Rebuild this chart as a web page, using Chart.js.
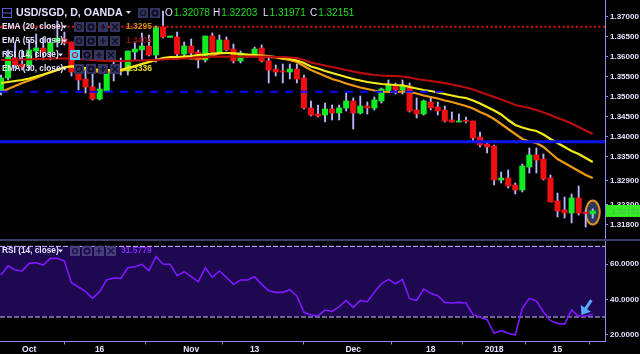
<!DOCTYPE html>
<html><head><meta charset="utf-8">
<style>html,body{margin:0;padding:0;background:#fff}canvas{display:block;background:#000}</style>
<script src="https://cdn.jsdelivr.net/npm/chart.js@4/dist/chart.umd.min.js"></script>
</head><body><canvas id="c" width="640" height="354"></canvas>
<script>
const open=[1.35125,1.35475,1.35975,1.35825,1.35800,1.36150,1.36225,1.36125,1.36375,1.36450,1.36375,1.35625,1.35450,1.35250,1.34950,1.35150,1.35600,1.35700,1.35650,1.36125,1.36175,1.36275,1.36050,1.36750,1.36490,1.36500,1.36075,1.36275,1.36125,1.35925,1.36525,1.36125,1.36425,1.36200,1.35900,1.36000,1.36075,1.36225,1.35900,1.35700,1.35650,1.35625,1.35700,1.35475,1.34725,1.34575,1.34550,1.34700,1.34600,1.34725,1.34900,1.34600,1.34775,1.34725,1.34900,1.35150,1.35300,1.35175,1.35275,1.34675,1.34575,1.34875,1.34750,1.34675,1.34425,1.34375,1.34415,1.34400,1.34000,1.33825,1.33775,1.32925,1.32975,1.32800,1.32675,1.33250,1.33550,1.33450,1.32975,1.32400,1.32175,1.32100,1.32475,1.32125,1.32078];
const high=[1.35550,1.36175,1.36350,1.36175,1.36425,1.36575,1.36500,1.36475,1.36900,1.36625,1.36375,1.35800,1.35725,1.35675,1.35350,1.35800,1.35950,1.35975,1.36150,1.36375,1.36600,1.36550,1.36775,1.37150,1.36525,1.36625,1.36375,1.36450,1.36175,1.36525,1.36600,1.36550,1.36500,1.36325,1.36150,1.36025,1.36250,1.36300,1.36025,1.35800,1.35825,1.35825,1.35825,1.35550,1.34900,1.34800,1.34850,1.34800,1.34800,1.35100,1.34975,1.35025,1.34875,1.35000,1.35225,1.35425,1.35350,1.35425,1.35350,1.34975,1.34925,1.35000,1.34875,1.34775,1.34625,1.34575,1.34500,1.34400,1.34125,1.33875,1.33800,1.33125,1.33175,1.32850,1.33325,1.33725,1.33725,1.33575,1.33050,1.32600,1.32500,1.32575,1.32775,1.32175,1.32203];
const low=[1.35050,1.35425,1.35725,1.35675,1.35675,1.35925,1.35925,1.35925,1.36250,1.36300,1.35525,1.35175,1.35100,1.34925,1.34925,1.35150,1.35400,1.35550,1.35550,1.35925,1.35925,1.36025,1.35875,1.36475,1.36490,1.36000,1.35975,1.35950,1.35725,1.35875,1.36125,1.36125,1.36150,1.35850,1.35850,1.36000,1.36025,1.35875,1.35350,1.35525,1.35350,1.35450,1.35350,1.34700,1.34525,1.34500,1.34375,1.34425,1.34425,1.34650,1.34200,1.34575,1.34575,1.34675,1.34850,1.35125,1.35075,1.35075,1.34625,1.34475,1.34550,1.34675,1.34550,1.34375,1.34375,1.34375,1.34350,1.33900,1.33750,1.33600,1.32800,1.32850,1.32725,1.32575,1.32625,1.33100,1.33100,1.32925,1.32375,1.32000,1.31975,1.31850,1.32050,1.31750,1.31971];
const close=[1.35475,1.36000,1.35800,1.35750,1.36175,1.36225,1.36125,1.36350,1.36475,1.36350,1.35625,1.35425,1.35250,1.34950,1.35200,1.35600,1.35700,1.35650,1.36150,1.36200,1.36275,1.36050,1.36750,1.36500,1.36525,1.36075,1.36275,1.36100,1.35925,1.36525,1.36125,1.36425,1.36175,1.35900,1.36100,1.36025,1.36200,1.35900,1.35675,1.35625,1.35625,1.35700,1.35450,1.34725,1.34550,1.34525,1.34700,1.34600,1.34725,1.34900,1.34600,1.34775,1.34725,1.34925,1.35200,1.35300,1.35175,1.35275,1.34650,1.34575,1.34900,1.34725,1.34650,1.34400,1.34375,1.34400,1.34390,1.33975,1.33800,1.33750,1.32925,1.32975,1.32775,1.32675,1.33275,1.33550,1.33425,1.32950,1.32375,1.32150,1.32100,1.32475,1.32100,1.32088,1.32151];
const ema20=[1.35125,1.35200,1.35275,1.35350,1.35413,1.35475,1.35550,1.35625,1.35675,1.35750,1.35750,1.35725,1.35688,1.35650,1.35625,1.35625,1.35638,1.35650,1.35700,1.35763,1.35825,1.35875,1.35925,1.35963,1.35975,1.35975,1.35975,1.35963,1.35963,1.35975,1.36038,1.36088,1.36100,1.36100,1.36075,1.36050,1.36038,1.36025,1.36000,1.35988,1.35950,1.35925,1.35875,1.35775,1.35675,1.35600,1.35525,1.35450,1.35400,1.35338,1.35288,1.35238,1.35200,1.35163,1.35138,1.35125,1.35125,1.35138,1.35125,1.35088,1.35038,1.35000,1.34963,1.34913,1.34875,1.34825,1.34775,1.34713,1.34625,1.34550,1.34450,1.34325,1.34200,1.34075,1.33950,1.33888,1.33850,1.33750,1.33600,1.33450,1.33350,1.33250,1.33150,1.33050,1.32975];
const ema30=[1.35350,1.35375,1.35400,1.35425,1.35463,1.35513,1.35563,1.35613,1.35675,1.35738,1.35775,1.35750,1.35725,1.35700,1.35675,1.35675,1.35675,1.35675,1.35725,1.35775,1.35825,1.35875,1.35925,1.35975,1.36000,1.36000,1.36013,1.36025,1.36050,1.36063,1.36088,1.36100,1.36100,1.36088,1.36075,1.36063,1.36050,1.36038,1.36025,1.36000,1.35975,1.35950,1.35913,1.35850,1.35763,1.35713,1.35650,1.35600,1.35550,1.35500,1.35450,1.35413,1.35375,1.35350,1.35325,1.35313,1.35300,1.35293,1.35250,1.35213,1.35175,1.35150,1.35113,1.35075,1.35038,1.35000,1.34975,1.34913,1.34838,1.34750,1.34663,1.34563,1.34425,1.34300,1.34238,1.34188,1.34150,1.34063,1.33950,1.33850,1.33750,1.33650,1.33575,1.33475,1.33375];
const ema55=[1.35925,1.35925,1.35925,1.35938,1.35938,1.35950,1.35950,1.35963,1.35963,1.35963,1.35963,1.35950,1.35938,1.35925,1.35913,1.35900,1.35900,1.35900,1.35900,1.35913,1.35913,1.35925,1.35925,1.35938,1.35950,1.35950,1.35963,1.35975,1.35988,1.36000,1.36008,1.36008,1.36008,1.36008,1.36008,1.36008,1.36008,1.36008,1.36008,1.36000,1.36000,1.35988,1.35975,1.35925,1.35863,1.35825,1.35788,1.35750,1.35713,1.35675,1.35638,1.35605,1.35580,1.35550,1.35538,1.35530,1.35525,1.35513,1.35488,1.35450,1.35425,1.35400,1.35375,1.35345,1.35313,1.35275,1.35238,1.35188,1.35125,1.35063,1.35000,1.34938,1.34875,1.34800,1.34763,1.34725,1.34675,1.34613,1.34550,1.34475,1.34413,1.34338,1.34250,1.34163,1.34075];
const rsi=[53.77,59.05,56.60,56.04,60.37,60.75,59.43,63.21,63.21,61.70,49.43,46.98,44.34,40.57,44.34,50.94,52.08,51.89,57.92,58.49,59.81,56.23,64.15,60.00,59.81,53.40,55.66,52.83,50.00,57.92,52.45,56.04,52.45,48.49,50.94,50.94,52.83,48.49,44.91,43.96,43.96,45.47,41.89,32.64,31.14,30.76,33.97,33.21,35.85,39.44,35.47,39.44,38.68,43.96,48.87,51.32,48.87,51.32,40.38,39.44,45.85,43.40,42.08,38.30,37.93,38.30,37.93,31.51,29.82,28.50,20.76,22.27,20.76,19.82,34.91,40.57,39.06,33.02,27.93,26.42,26.04,33.97,30.38,30.57,31.58];
const timeTickIndex=[4,14,27,36,50,61,70,79];
const timeTickLabels=['Oct','16','Nov','13','Dec','18','2018','15'];
const priceTicks=[1.37,1.365,1.36,1.355,1.35,1.345,1.34,1.335,1.329,1.323,1.318];
const rsiTicks=[60,40,20];
const levelDotted=1.36758, levelDashed=1.35133, levelSolid=1.33883, dashedEndIndex=63;
const rsiUpper=70, rsiLower=30;
const symbolTitle='USD/SGD, D, OANDA';
const ohlcText=[['O','1.32078'],['H','1.32203'],['L','1.31971'],['C','1.32151']];
const lastPrice='1.32151';

const AXIS='#8c8cf5',TXT='#e2e2ff',UP='#10ec22',DOWN='#ee1010',WICK='#b8b8ff';
const XMIN=-0.142,XMAX=85.74;
const idx=open.map((_,i)=>i);
const line=(label,values,color,w)=>({type:'line',label,data:values.map((y,i)=>({x:i,y})),borderColor:color,borderWidth:w,pointRadius:0,tension:0,fill:false,yAxisID:'y',order:1});
const hline=(label,y,color,w,dash,xEnd,axis)=>({type:'line',label,data:[{x:XMIN,y},{x:xEnd,y}],borderColor:color,borderWidth:w,borderDash:dash,pointRadius:0,fill:false,yAxisID:axis,order:0});
const bars=(label,data,color,th,ord)=>({type:'bar',label,data,backgroundColor:color,borderWidth:0,barThickness:th,grouped:false,yAxisID:'y',order:ord});
const noPad=s=>{s.paddingTop=0;s.paddingBottom=0;s.paddingLeft=0;s.paddingRight=0;};

const overlay={id:'overlay',
 beforeDatasetsDraw(ch){const c=ch.ctx,x=ch.scales.x,y=ch.scales.y;
  c.save();c.beginPath();c.ellipse(x.getPixelForValue(84),y.getPixelForValue(1.32112),7,12,0,0,Math.PI*2);
  c.fillStyle='#2b3a58';c.fill();c.strokeStyle='#e0921e';c.lineWidth=2;c.stroke();c.restore();},
 afterDraw(ch){const c=ch.ctx,x=ch.scales.x,y=ch.scales.y,r=ch.scales.yr;c.save();
  c.fillStyle='#3d3d6b';c.fillRect(0,Math.round(r.top)-1,640,2);
  const ax=x.getPixelForValue(82.4),ay=r.getPixelForValue(31.1),bx=x.getPixelForValue(83.8),by=r.getPixelForValue(39.6);
  const ang=Math.atan2(ay-by,ax-bx);
  c.strokeStyle='#55aaff';c.lineWidth=3;c.beginPath();c.moveTo(bx,by);c.lineTo(ax+Math.cos(ang+Math.PI)*4,ay+Math.sin(ang+Math.PI)*4);c.stroke();
  c.fillStyle='#55aaff';c.beginPath();c.moveTo(ax,ay);c.lineTo(ax+Math.cos(ang+Math.PI-.65)*10,ay+Math.sin(ang+Math.PI-.65)*10);c.lineTo(ax+Math.cos(ang+Math.PI+.65)*10,ay+Math.sin(ang+Math.PI+.65)*10);c.closePath();c.fill();
  const ty=y.getPixelForValue(+lastPrice);
  c.fillStyle='#35ee22';c.fillRect(606,ty-6,34,12);
  c.fillStyle='#4fae62';c.font='8px "Liberation Sans"';c.textBaseline='middle';c.textAlign='left';c.fillText(lastPrice,611,ty+.5);
  const text=(s,px,py,col,font)=>{c.fillStyle=col;c.font=font;c.textBaseline='middle';c.textAlign='left';c.fillText(s,px,py);};
  const caret=(px,py,col)=>{c.fillStyle=col;c.beginPath();c.moveTo(px,py-1.5);c.lineTo(px+5,py-1.5);c.lineTo(px+2.5,py+1.5);c.closePath();c.fill();};
  c.strokeStyle='#5a5acc';c.lineWidth=1;c.strokeRect(2.5,8.5,9,9);c.beginPath();c.moveTo(2.5,13);c.lineTo(11.5,13);c.stroke();
  text(symbolTitle,16,13,'#e0e0ff','bold 10.6px "Liberation Sans"');caret(126,12.5,TXT);
  const btn=(cx,cy,kind,bg,fg)=>{c.fillStyle=bg;c.fillRect(cx-5,cy-5,10,10);c.strokeStyle=fg;c.fillStyle=fg;c.lineWidth=1.2;c.beginPath();
   if(kind==='eye'){c.arc(cx,cy,2.5,0,7);c.stroke();}
   else if(kind==='gear'){c.lineWidth=1.8;c.arc(cx,cy,2.6,0,7);c.stroke();}
   else if(kind==='plus'){c.moveTo(cx-3,cy);c.lineTo(cx+3,cy);c.moveTo(cx,cy-3);c.lineTo(cx,cy+3);c.stroke();}
   else{c.moveTo(cx-3,cy-3);c.lineTo(cx+3,cy+3);c.moveTo(cx+3,cy-3);c.lineTo(cx-3,cy+3);c.stroke();}};
  const BG='#34345f',FG='#0d0d20';
  btn(143,13,'eye',BG,FG);btn(155,13,'gear',BG,FG);
  const ohlcX=[165,213,263,310];
  ohlcText.forEach((o,i)=>{text(o[0],ohlcX[i],13,'#e0e0ff','10px "Liberation Sans"');c.font='10px "Liberation Sans"';text(o[1],ohlcX[i]+c.measureText(o[0]).width+1,13,'#1fe01f','10px "Liberation Sans"');});
  const rows=[['EMA (20, close)',27,79,'1.3295','#c98a12'],['EMA (55, close)',41,79,'1.3404','#8f1010'],['RSI (14, close)',55,75,null,null],['EMA (30, close)',69,79,'1.3336','#e8e020']];
  const kinds=['eye','gear','plus','x'];
  rows.forEach(a=>{kinds.forEach((k,j)=>{if(a[0].startsWith('RSI')&&j===0)btn(a[2],a[1],'eye','#55c8ff','#c02030');else btn(a[2]+j*12,a[1],k,BG,FG);});
   text(a[0],2,a[1],TXT,'bold 8.3px "Liberation Sans"');caret(a[2]-17,a[1],TXT);
   if(a[3])text(a[3],126,a[1],a[4],'bold 8.5px "Liberation Sans"');});
  kinds.forEach((k,j)=>btn(75+j*12,251,k,'#45407a','#1d0a50'));
  text('RSI (14, close)',2,251,TXT,'bold 8.3px "Liberation Sans"');caret(58,251,TXT);
  text('31.5779',121,251,'#8822ff','bold 8.5px "Liberation Sans"');
  c.restore();}
};

new Chart(document.getElementById('c'),{
 type:'bar',
 data:{datasets:[
  hline('Level dotted',levelDotted,'#e01212',2,[2,2.5],XMAX,'y'),
  hline('Level dashed',levelDashed,'#0808ff',2,[8,7],dashedEndIndex,'y'),
  hline('Level solid',levelSolid,'#0a14ee',3,[],XMAX,'y'),
  line('EMA (55, close)',ema55,'#bb0d0d',2.2),
  line('EMA (30, close)',ema30,'#f4ec18',2.2),
  line('EMA (20, close)',ema20,'#ee9a12',2.2),
  bars('Wick',idx.map(i=>({x:i,y:[low[i],high[i]]})),WICK,1.2,6),
  bars('Up',idx.filter(i=>close[i]>=open[i]).map(i=>({x:i,y:[open[i],close[i]]})),UP,5.4,5),
  bars('Down',idx.filter(i=>close[i]<open[i]).map(i=>({x:i,y:[open[i],close[i]]})),DOWN,5.4,5),
  {type:'line',label:'RSI upper',data:[{x:XMIN,y:rsiUpper},{x:XMAX,y:rsiUpper}],borderColor:'#d0c0ff',borderWidth:1,borderDash:[5,2],pointRadius:0,yAxisID:'yr',fill:{value:rsiLower},backgroundColor:'#1e0850',order:9},
  {type:'line',label:'RSI lower',data:[{x:XMIN,y:rsiLower},{x:XMAX,y:rsiLower}],borderColor:'#d0c0ff',borderWidth:1,borderDash:[5,2],pointRadius:0,yAxisID:'yr',fill:false,order:8},
  {type:'line',label:'RSI (14, close)',data:rsi.map((y,i)=>({x:i,y})),borderColor:'#7e18ff',borderWidth:1.6,pointRadius:0,tension:0,fill:false,yAxisID:'yr',order:2}
 ]},
 plugins:[overlay],
 options:{responsive:false,animation:false,events:[],
  layout:{padding:0},
  plugins:{legend:{display:false},tooltip:{enabled:false},title:{display:false}},
  scales:{
   x:{type:'linear',min:XMIN,max:XMAX,offset:false,position:'bottom',
    grid:{drawOnChartArea:false,drawTicks:true,tickLength:3,color:AXIS},border:{color:AXIS,width:1},
    afterFit(s){s.height=12.5;noPad(s);},
    afterBuildTicks(s){s.ticks=timeTickIndex.map(v=>({value:v}));},
    ticks:{autoSkip:false,maxRotation:0,padding:0,color:TXT,font:{family:'"Liberation Sans"',size:8.5,weight:'bold'},callback:v=>timeTickLabels[timeTickIndex.indexOf(v)]}},
   y:{type:'linear',position:'right',stack:'panes',stackWeight:240,min:1.31425,max:1.37425,
    grid:{drawOnChartArea:false,drawTicks:true,tickLength:3,color:AXIS},border:{color:AXIS,width:1},
    afterFit(s){s.width=35;noPad(s);},
    afterBuildTicks(s){s.ticks=priceTicks.map(v=>({value:v}));},
    ticks:{autoSkip:false,padding:2,color:TXT,font:{family:'"Liberation Sans"',size:8,weight:'bold'},callback:v=>v.toFixed(5)}},
   yr:{type:'linear',position:'right',stack:'panes',stackWeight:101.5,min:16.15,max:73.6,
    grid:{drawOnChartArea:false,drawTicks:true,tickLength:3,color:AXIS},border:{color:AXIS,width:1},
    afterFit(s){s.width=35;noPad(s);},
    afterBuildTicks(s){s.ticks=rsiTicks.map(v=>({value:v}));},
    ticks:{autoSkip:false,padding:2,color:TXT,font:{family:'"Liberation Sans"',size:8,weight:'bold'},callback:v=>v.toFixed(4)}}
  }}
});
</script></body></html>
